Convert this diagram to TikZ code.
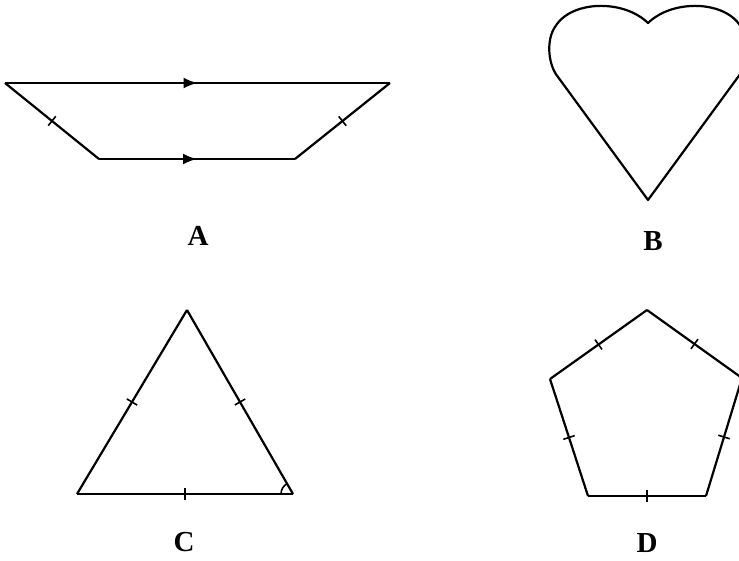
\documentclass[tikz,border=0pt]{standalone}
\usepackage{fontspec}
\setmainfont{Liberation Serif}
\usetikzlibrary{decorations.markings,arrows.meta,calc}
\begin{document}
\begin{tikzpicture}[x=1pt,y=-1pt,
  shape line/.style={line width=2.2pt,line join=round},
  midtick/.style={postaction={decorate},decoration={markings,
     mark=at position 0.5 with {\draw[line width=1.6pt] (0,-6)--(0,6);}}},
  midarrow/.style={postaction={decorate},decoration={markings,
     mark=at position 0.5 with {\arrow{Latex[length=14pt,width=11pt]}}}},
  lbl/.style={font=\fontsize{29}{32}\selectfont\bfseries}]
\useasboundingbox (0,0) rectangle (739,560);
% A: trapezoid
\coordinate (a1) at (5,83);
\coordinate (a2) at (390,83);
\coordinate (a3) at (295,159);
\coordinate (a4) at (99,159);
\draw[shape line,midarrow] (a1) -- (a2);
\draw[shape line,midarrow] (a4) -- (a3);
\draw[shape line,midtick] (a1) -- (a4);
\draw[shape line,midtick] (a3) -- (a2);
\node[lbl] (A) at (198,236) {A};
% B: heart
\draw[shape line] (648,200) -- (558,77)
  .. controls (548,65) and (546,40) .. (555,27)
  .. controls (565,10) and (588,5) .. (605,6)
  .. controls (625,7) and (640,15) .. (648,23)
  .. controls (656,15) and (671,7) .. (691,6)
  .. controls (708,5) and (731,10) .. (741,27)
  .. controls (750,40) and (748,65) .. (738,77)
  -- cycle;
\node[lbl] (B) at (653,241) {B};
% C: triangle
\coordinate (c1) at (187,310);
\coordinate (c2) at (293,494);
\coordinate (c3) at (77,494);
\draw[shape line,midtick] (c3) -- (c1);
\draw[shape line,midtick] (c1) -- (c2);
\draw[shape line,midtick] (c2) -- (c3);
\draw[line width=1.6pt] ($(c2)+(-12,0)$) arc[start angle=180,end angle=240,radius=12];
\node[lbl] (C) at (184,542) {C};
% D: pentagon
\coordinate (d1) at (647,310);
\coordinate (d2) at (742,378);
\coordinate (d3) at (706,496);
\coordinate (d4) at (588,496);
\coordinate (d5) at (550,379);
\draw[shape line,midtick] (d1) -- (d2);
\draw[shape line,midtick] (d2) -- (d3);
\draw[shape line,midtick] (d3) -- (d4);
\draw[shape line,midtick] (d4) -- (d5);
\draw[shape line,midtick] (d5) -- (d1);
\node[lbl] (D) at (647,543) {D};
\end{tikzpicture}
\end{document}
